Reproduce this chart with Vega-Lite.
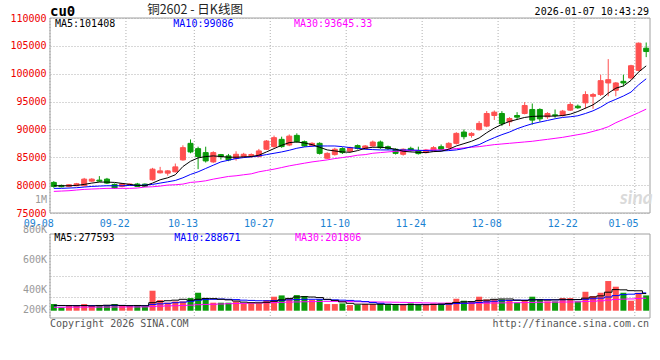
{
"$schema":"https://vega.github.io/schema/vega-lite/v6.json",
"width":600,"height":300,
"autosize":{"type":"none"},
"padding":{"left":50,"top":18,"right":10,"bottom":42},
"background":"#ffffff",
"config":{"view":{"stroke":null},"text":{"font":"DejaVu Sans Mono","fontSize":10,"baseline":"middle"},"axis":{"labelFont":"DejaVu Sans Mono","labelFontSize":10}},
"data":{"values":[
{"d":"2025-09-08","o":80490,"h":80720,"l":79530,"c":79770,"v":108000,"m5":79890,"m10":79420,"m30":78880,"vm5":88000,"vm10":83000,"vm30":55000},
{"d":"2025-09-09","o":79950,"h":80100,"l":79600,"c":79720,"v":54000,"m5":79890,"m10":79420,"m30":78940,"vm5":85000,"vm10":83000,"vm30":56000},
{"d":"2025-09-10","o":79770,"h":80200,"l":79650,"c":80070,"v":76000,"m5":79890,"m10":79480,"m30":79000,"vm5":83000,"vm10":83000,"vm30":57000},
{"d":"2025-09-11","o":79890,"h":80400,"l":79800,"c":80250,"v":76000,"m5":79950,"m10":79540,"m30":79120,"vm5":81000,"vm10":83000,"vm30":57000},
{"d":"2025-09-12","o":79890,"h":81300,"l":79800,"c":81080,"v":108000,"m5":80130,"m10":79660,"m30":79240,"vm5":84000,"vm10":83000,"vm30":58000},
{"d":"2025-09-15","o":80720,"h":81250,"l":80600,"c":81080,"v":76000,"m5":80370,"m10":79770,"m30":79300,"vm5":78000,"vm10":83000,"vm30":58000},
{"d":"2025-09-16","o":80900,"h":81620,"l":80600,"c":80720,"v":92000,"m5":80550,"m10":79830,"m30":79360,"vm5":85000,"vm10":83000,"vm30":59000},
{"d":"2025-09-17","o":81080,"h":81300,"l":80200,"c":80370,"v":76000,"m5":80550,"m10":79890,"m30":79420,"vm5":89000,"vm10":83000,"vm30":59000},
{"d":"2025-09-18","o":80130,"h":80300,"l":79400,"c":79480,"v":108000,"m5":80490,"m10":79890,"m30":79420,"vm5":92000,"vm10":85000,"vm30":60000},
{"d":"2025-09-19","o":79770,"h":80400,"l":79600,"c":80250,"v":76000,"m5":80310,"m10":79890,"m30":79420,"vm5":85000,"vm10":86000,"vm30":60000},
{"d":"2025-09-22","o":79950,"h":80300,"l":79850,"c":80200,"v":76000,"m5":80130,"m10":79950,"m30":79420,"vm5":82000,"vm10":83000,"vm30":61000},
{"d":"2025-09-23","o":80200,"h":80400,"l":79700,"c":79770,"v":76000,"m5":79950,"m10":79950,"m30":79480,"vm5":85000,"vm10":82000,"vm30":61000},
{"d":"2025-09-24","o":80180,"h":80300,"l":79700,"c":79800,"v":65000,"m5":79890,"m10":80010,"m30":79660,"vm5":80000,"vm10":82000,"vm30":62000},
{"d":"2025-09-25","o":80960,"h":83100,"l":80800,"c":82870,"v":324000,"m5":80370,"m10":80130,"m30":79710,"vm5":130000,"vm10":102000,"vm30":69000},
{"d":"2025-09-26","o":82210,"h":83280,"l":82100,"c":82560,"v":173000,"m5":80960,"m10":80370,"m30":79830,"vm5":148000,"vm10":111000,"vm30":74000},
{"d":"2025-09-29","o":82150,"h":82700,"l":81700,"c":82560,"v":130000,"m5":81320,"m10":80600,"m30":80010,"vm5":162000,"vm10":120000,"vm30":78000},
{"d":"2025-09-30","o":82390,"h":83880,"l":82300,"c":83280,"v":151000,"m5":81860,"m10":80840,"m30":80070,"vm5":171000,"vm10":130000,"vm30":81000},
{"d":"2025-10-09","o":84530,"h":87150,"l":84400,"c":86730,"v":151000,"m5":83340,"m10":81320,"m30":80190,"vm5":185000,"vm10":139000,"vm30":85000},
{"d":"2025-10-10","o":87500,"h":88200,"l":85720,"c":85960,"v":205000,"m5":84290,"m10":81920,"m30":80490,"vm5":171000,"vm10":153000,"vm30":90000},
{"d":"2025-10-13","o":86550,"h":86900,"l":82870,"c":85130,"v":291000,"m5":84890,"m10":82390,"m30":80600,"vm5":185000,"vm10":171000,"vm30":97000},
{"d":"2025-10-14","o":85840,"h":86900,"l":84060,"c":84350,"v":205000,"m5":85130,"m10":82990,"m30":80780,"vm5":199000,"vm10":180000,"vm30":102000},
{"d":"2025-10-15","o":84170,"h":86080,"l":84000,"c":85840,"v":130000,"m5":85250,"m10":83580,"m30":81080,"vm5":196000,"vm10":185000,"vm30":105000},
{"d":"2025-10-16","o":85480,"h":85600,"l":84600,"c":85130,"v":130000,"m5":85130,"m10":84170,"m30":81320,"vm5":185000,"vm10":190000,"vm30":109000},
{"d":"2025-10-17","o":85250,"h":85600,"l":84300,"c":84530,"v":130000,"m5":85010,"m10":84470,"m30":81560,"vm5":176000,"vm10":185000,"vm30":113000},
{"d":"2025-10-20","o":84770,"h":86080,"l":84400,"c":85540,"v":151000,"m5":85010,"m10":84770,"m30":81680,"vm5":157000,"vm10":180000,"vm30":117000},
{"d":"2025-10-21","o":85130,"h":85800,"l":84900,"c":85540,"v":118000,"m5":85070,"m10":84950,"m30":81860,"vm5":139000,"vm10":171000,"vm30":119000},
{"d":"2025-10-22","o":85300,"h":85700,"l":84900,"c":85500,"v":118000,"m5":85130,"m10":85070,"m30":82030,"vm5":130000,"vm10":167000,"vm30":122000},
{"d":"2025-10-23","o":85130,"h":86500,"l":85000,"c":86140,"v":118000,"m5":85370,"m10":85250,"m30":82390,"vm5":128000,"vm10":162000,"vm30":125000},
{"d":"2025-10-24","o":86440,"h":88100,"l":86300,"c":87920,"v":173000,"m5":85960,"m10":85480,"m30":82630,"vm5":136000,"vm10":162000,"vm30":128000},
{"d":"2025-10-27","o":86920,"h":88900,"l":86700,"c":88520,"v":227000,"m5":86560,"m10":85720,"m30":82870,"vm5":153000,"vm10":165000,"vm30":131000},
{"d":"2025-10-28","o":88220,"h":88700,"l":86700,"c":86920,"v":248000,"m5":87150,"m10":85960,"m30":83160,"vm5":176000,"vm10":167000,"vm30":135000},
{"d":"2025-10-29","o":87200,"h":89100,"l":87000,"c":88800,"v":205000,"m5":87630,"m10":86260,"m30":83460,"vm5":199000,"vm10":176000,"vm30":139000},
{"d":"2025-10-30","o":88930,"h":89300,"l":87600,"c":87800,"v":253000,"m5":87750,"m10":86620,"m30":83700,"vm5":222000,"vm10":180000,"vm30":142000},
{"d":"2025-10-31","o":87800,"h":88000,"l":86900,"c":87030,"v":238000,"m5":87570,"m10":86860,"m30":83940,"vm5":227000,"vm10":185000,"vm30":145000},
{"d":"2025-11-03","o":87150,"h":87700,"l":86900,"c":87500,"v":173000,"m5":87270,"m10":86980,"m30":84170,"vm5":222000,"vm10":185000,"vm30":148000},
{"d":"2025-11-04","o":87500,"h":87700,"l":85500,"c":85700,"v":183000,"m5":86800,"m10":87030,"m30":84350,"vm5":213000,"vm10":185000,"vm30":150000},
{"d":"2025-11-05","o":84830,"h":85900,"l":84700,"c":85700,"v":108000,"m5":86320,"m10":87030,"m30":84530,"vm5":185000,"vm10":180000,"vm30":151000},
{"d":"2025-11-06","o":85480,"h":86700,"l":85300,"c":86440,"v":108000,"m5":86140,"m10":87030,"m30":84770,"vm5":167000,"vm10":176000,"vm30":151000},
{"d":"2025-11-07","o":86560,"h":86800,"l":85600,"c":85840,"v":118000,"m5":85960,"m10":86910,"m30":84950,"vm5":143000,"vm10":171000,"vm30":150000},
{"d":"2025-11-10","o":86080,"h":86900,"l":85900,"c":86730,"v":92000,"m5":85900,"m10":86740,"m30":85130,"vm5":120000,"vm10":167000,"vm30":148000},
{"d":"2025-11-11","o":87100,"h":87300,"l":86400,"c":86600,"v":92000,"m5":86200,"m10":86620,"m30":85370,"vm5":106000,"vm10":157000,"vm30":146000},
{"d":"2025-11-12","o":86560,"h":87200,"l":86400,"c":87030,"v":108000,"m5":86620,"m10":86440,"m30":85480,"vm5":106000,"vm10":148000,"vm30":144000},
{"d":"2025-11-13","o":87030,"h":88000,"l":86900,"c":87740,"v":108000,"m5":86800,"m10":86380,"m30":85720,"vm5":106000,"vm10":134000,"vm30":142000},
{"d":"2025-11-14","o":87740,"h":88000,"l":86500,"c":86730,"v":108000,"m5":86800,"m10":86320,"m30":85840,"vm5":105000,"vm10":120000,"vm30":141000},
{"d":"2025-11-17","o":86900,"h":87100,"l":86300,"c":86560,"v":92000,"m5":86680,"m10":86320,"m30":85960,"vm5":102000,"vm10":106000,"vm30":139000},
{"d":"2025-11-18","o":86440,"h":86600,"l":85500,"c":85700,"v":92000,"m5":86440,"m10":86320,"m30":86080,"vm5":100000,"vm10":102000,"vm30":137000},
{"d":"2025-11-19","o":85540,"h":86600,"l":85300,"c":86440,"v":92000,"m5":86080,"m10":86320,"m30":86140,"vm5":97000,"vm10":102000,"vm30":135000},
{"d":"2025-11-20","o":86600,"h":86900,"l":86000,"c":86300,"v":118000,"m5":85960,"m10":86320,"m30":86200,"vm5":100000,"vm10":102000,"vm30":132000},
{"d":"2025-11-21","o":86140,"h":86900,"l":85500,"c":85660,"v":92000,"m5":85900,"m10":86260,"m30":86200,"vm5":97000,"vm10":102000,"vm30":130000},
{"d":"2025-11-24","o":85840,"h":86500,"l":85700,"c":86310,"v":92000,"m5":85840,"m10":86200,"m30":86260,"vm5":97000,"vm10":102000,"vm30":127000},
{"d":"2025-11-25","o":86140,"h":87000,"l":86000,"c":86730,"v":118000,"m5":86020,"m10":86140,"m30":86320,"vm5":102000,"vm10":102000,"vm30":125000},
{"d":"2025-11-26","o":86900,"h":87300,"l":86300,"c":86440,"v":118000,"m5":86080,"m10":86140,"m30":86320,"vm5":106000,"vm10":102000,"vm30":123000},
{"d":"2025-11-27","o":86740,"h":87700,"l":86500,"c":87500,"v":130000,"m5":86440,"m10":86200,"m30":86440,"vm5":116000,"vm10":106000,"vm30":122000},
{"d":"2025-11-28","o":87500,"h":89500,"l":87300,"c":89290,"v":194000,"m5":87030,"m10":86320,"m30":86560,"vm5":134000,"vm10":116000,"vm30":121000},
{"d":"2025-12-01","o":89530,"h":90000,"l":88220,"c":88700,"v":162000,"m5":87450,"m10":86560,"m30":86680,"vm5":143000,"vm10":120000,"vm30":121000},
{"d":"2025-12-02","o":88930,"h":89500,"l":88520,"c":89290,"v":141000,"m5":87870,"m10":86910,"m30":86800,"vm5":148000,"vm10":125000,"vm30":121000},
{"d":"2025-12-03","o":89950,"h":91500,"l":89800,"c":91080,"v":227000,"m5":88460,"m10":87270,"m30":86910,"vm5":167000,"vm10":134000,"vm30":122000},
{"d":"2025-12-04","o":90600,"h":93300,"l":90400,"c":92860,"v":183000,"m5":89410,"m10":87930,"m30":87090,"vm5":171000,"vm10":143000,"vm30":123000},
{"d":"2025-12-05","o":92500,"h":93400,"l":91700,"c":93100,"v":183000,"m5":90240,"m10":88520,"m30":87270,"vm5":185000,"vm10":153000,"vm30":125000},
{"d":"2025-12-08","o":92860,"h":93280,"l":90600,"c":91020,"v":183000,"m5":90900,"m10":89060,"m30":87390,"vm5":190000,"vm10":162000,"vm30":127000},
{"d":"2025-12-09","o":91380,"h":92200,"l":90600,"c":91960,"v":173000,"m5":91430,"m10":89530,"m30":87510,"vm5":190000,"vm10":167000,"vm30":129000},
{"d":"2025-12-10","o":92500,"h":93100,"l":91700,"c":92200,"v":130000,"m5":91790,"m10":90130,"m30":87630,"vm5":171000,"vm10":171000,"vm30":130000},
{"d":"2025-12-11","o":92860,"h":94900,"l":92700,"c":94290,"v":162000,"m5":92150,"m10":90600,"m30":87750,"vm5":167000,"vm10":171000,"vm30":131000},
{"d":"2025-12-12","o":93580,"h":94650,"l":90850,"c":91670,"v":227000,"m5":92330,"m10":91020,"m30":87870,"vm5":176000,"vm10":176000,"vm30":134000},
{"d":"2025-12-15","o":93580,"h":93800,"l":91400,"c":91900,"v":183000,"m5":92390,"m10":91320,"m30":88050,"vm5":176000,"vm10":180000,"vm30":137000},
{"d":"2025-12-16","o":92260,"h":93100,"l":91900,"c":92860,"v":151000,"m5":92390,"m10":91610,"m30":88220,"vm5":171000,"vm10":180000,"vm30":138000},
{"d":"2025-12-17","o":92620,"h":93580,"l":92100,"c":92500,"v":151000,"m5":92390,"m10":91910,"m30":88400,"vm5":176000,"vm10":176000,"vm30":139000},
{"d":"2025-12-18","o":92500,"h":93500,"l":92300,"c":93280,"v":205000,"m5":92500,"m10":92150,"m30":88580,"vm5":185000,"vm10":176000,"vm30":140000},
{"d":"2025-12-19","o":93460,"h":94880,"l":93300,"c":94470,"v":205000,"m5":92740,"m10":92270,"m30":88820,"vm5":180000,"vm10":180000,"vm30":141000},
{"d":"2025-12-22","o":94170,"h":94470,"l":93700,"c":93880,"v":151000,"m5":93220,"m10":92450,"m30":89060,"vm5":180000,"vm10":180000,"vm30":143000},
{"d":"2025-12-23","o":94770,"h":96850,"l":93700,"c":96260,"v":307000,"m5":93810,"m10":92860,"m30":89290,"vm5":204000,"vm10":185000,"vm30":149000},
{"d":"2025-12-24","o":95950,"h":96550,"l":93700,"c":96260,"v":238000,"m5":94410,"m10":93340,"m30":89650,"vm5":222000,"vm10":194000,"vm30":154000},
{"d":"2025-12-25","o":96260,"h":99820,"l":96000,"c":98750,"v":291000,"m5":95360,"m10":93990,"m30":90010,"vm5":241000,"vm10":204000,"vm30":160000},
{"d":"2025-12-26","o":98340,"h":102620,"l":95950,"c":98930,"v":481000,"m5":96500,"m10":94830,"m30":90480,"vm5":300000,"vm10":222000,"vm30":172000},
{"d":"2025-12-29","o":97030,"h":98500,"l":95950,"c":98340,"v":389000,"m5":97400,"m10":95400,"m30":91200,"vm5":342000,"vm10":245000,"vm30":182000},
{"d":"2025-12-30","o":98630,"h":99820,"l":97740,"c":98340,"v":291000,"m5":97800,"m10":96000,"m30":91800,"vm5":338000,"vm10":260000,"vm30":188000},
{"d":"2025-12-31","o":99230,"h":101600,"l":98930,"c":101430,"v":162000,"m5":98800,"m10":96700,"m30":92400,"vm5":325000,"vm10":268000,"vm30":191000},
{"d":"2026-01-05","o":100600,"h":105600,"l":100400,"c":105480,"v":291000,"m5":100300,"m10":98000,"m30":93000,"vm5":323000,"vm10":278000,"vm30":197000},
{"d":"2026-01-06","o":104580,"h":105600,"l":102980,"c":103980,"v":248000,"m5":101408,"m10":99086,"m30":93645.33,"vm5":277593,"vm10":288671,"vm30":201806}
]},
"resolve":{"scale":{"y":"independent"}},
"layer":[
{"layer":[
 {"transform":[{"filter":{"field":"d","oneOf":["2025-09-08","2025-09-22","2025-10-13","2025-10-27","2025-11-10","2025-11-24","2025-12-08","2025-12-22","2026-01-05"]}}],
  "mark":{"type":"rule","color":"#b0b0b0","strokeDash":[1,2],"strokeWidth":1},
  "encoding":{"x":{"field":"d","type":"ordinal","bandPosition":0},"y":{"datum":110000,"type":"quantitative","scale":{"domain":[75000,110000],"range":[195,0],"nice":false,"zero":false}},"y2":{"datum":75000}}},
 {"mark":{"type":"rule","strokeWidth":1},
  "encoding":{"x":{"field":"d","type":"ordinal"},"y":{"field":"l","type":"quantitative"},"y2":{"field":"h"},
   "color":{"condition":{"test":"datum.c >= datum.o","value":"#ff5050"},"value":"#0a9b0a"}}},
 {"mark":{"type":"bar","size":5,"strokeWidth":1},
  "encoding":{
   "x":{"field":"d","type":"ordinal","scale":{"type":"band","paddingInner":0,"paddingOuter":0},
        "axis":{"orient":"bottom","offset":-105,"values":["2025-09-08","2025-09-22","2025-10-13","2025-10-27","2025-11-10","2025-11-24","2025-12-08","2025-12-22","2026-01-05"],"bandPosition":0,"labelExpr":"substring(datum.value,5)","labelColor":"#1b82d2","labelAngle":0,"ticks":false,"domain":false,"grid":false,"labelPadding":10,"title":null}},
   "y":{"field":"o","type":"quantitative","scale":{"domain":[75000,110000],"range":[195,0],"nice":false,"zero":false},
        "axis":{"orient":"left","values":[75000,80000,85000,90000,95000,100000,105000,110000],"format":"d","labelColor":"#ee0000","ticks":false,"domain":false,"grid":true,"gridColor":"#b0b0b0","gridDash":[1,2],"labelPadding":4,"title":null}},
   "y2":{"field":"c"},
   "fill":{"condition":{"test":"datum.c >= datum.o","value":"#ff5050"},"value":"#0a9b0a"},
   "stroke":{"condition":{"test":"datum.c >= datum.o","value":"#ff5050"},"value":"#0a9b0a"}}},
 {"mark":{"type":"line","color":"#ff00ff","strokeWidth":1},"encoding":{"x":{"field":"d","type":"ordinal"},"y":{"field":"m30","type":"quantitative"}}},
 {"mark":{"type":"line","color":"#0000ff","strokeWidth":1},"encoding":{"x":{"field":"d","type":"ordinal"},"y":{"field":"m10","type":"quantitative"}}},
 {"mark":{"type":"line","color":"#000000","strokeWidth":1},"encoding":{"x":{"field":"d","type":"ordinal"},"y":{"field":"m5","type":"quantitative"}}},
 {"data":{"values":[{}]},"mark":{"type":"rule","color":"#a0a0a0","strokeWidth":1},"encoding":{"y":{"datum":110000,"type":"quantitative"}}},
 {"data":{"values":[{}]},"mark":{"type":"rule","color":"#a0a0a0","strokeWidth":1},"encoding":{"y":{"datum":75000,"type":"quantitative"}}},
 {"transform":[{"filter":"datum.d == '2025-09-08'"}],"mark":{"type":"rule","color":"#a0a0a0","strokeWidth":1},"encoding":{"x":{"field":"d","type":"ordinal","bandPosition":0},"y":{"datum":110000,"type":"quantitative"},"y2":{"datum":75000}}},
 {"transform":[{"filter":"datum.d == '2026-01-06'"}],"mark":{"type":"rule","color":"#a0a0a0","strokeWidth":1},"encoding":{"x":{"field":"d","type":"ordinal","bandPosition":1},"y":{"datum":110000,"type":"quantitative"},"y2":{"datum":75000}}},
 {"transform":[{"filter":"datum.d == '2025-09-08'"}],"mark":{"type":"text","text":"cu0","align":"left","fontSize":14,"fontWeight":"bold","color":"#000000","dy":-6},"encoding":{"x":{"field":"d","type":"ordinal","bandPosition":0},"y":{"datum":110000,"type":"quantitative"}}},
 {"transform":[{"filter":"datum.d == '2025-10-13'"}],"mark":{"type":"text","text":"铜2602 - 日K线图","align":"center","font":"Noto Sans CJK SC","fontSize":12.5,"color":"#222222","dx":0.7,"dy":-8.5},"encoding":{"x":{"field":"d","type":"ordinal","bandPosition":0},"y":{"datum":110000,"type":"quantitative"}}},
 {"transform":[{"filter":"datum.d == '2026-01-06'"}],"mark":{"type":"text","text":"2026-01-07 10:43:29","align":"right","color":"#000000","dx":-1,"dy":-6.3},"encoding":{"x":{"field":"d","type":"ordinal","bandPosition":1},"y":{"datum":110000,"type":"quantitative"}}},
 {"transform":[{"filter":"datum.d == '2025-09-08'"}],"mark":{"type":"text","text":"MA5:101408","align":"left","color":"#000000","dx":5,"dy":6},"encoding":{"x":{"field":"d","type":"ordinal","bandPosition":0},"y":{"datum":110000,"type":"quantitative"}}},
 {"transform":[{"filter":"datum.d == '2025-09-30'"}],"mark":{"type":"text","text":"MA10:99086","align":"left","color":"#0000ff","dx":1.8,"dy":6},"encoding":{"x":{"field":"d","type":"ordinal","bandPosition":0},"y":{"datum":110000,"type":"quantitative"}}},
 {"transform":[{"filter":"datum.d == '2025-10-30'"}],"mark":{"type":"text","text":"MA30:93645.33","align":"left","color":"#ff00ff","dx":1,"dy":6},"encoding":{"x":{"field":"d","type":"ordinal","bandPosition":0},"y":{"datum":110000,"type":"quantitative"}}},
 {"transform":[{"filter":"datum.d == '2026-01-05'"}],"mark":{"type":"text","text":"sina","align":"center","font":"Lato","fontStyle":"italic","fontWeight":"bold","fontSize":19,"color":"#dadada","dx":1.5,"dy":-15},"encoding":{"x":{"field":"d","type":"ordinal","bandPosition":0},"y":{"datum":75000,"type":"quantitative"}}}
]},
{"layer":[
 {"transform":[{"filter":{"field":"d","oneOf":["2025-09-08","2025-09-22","2025-10-13","2025-10-27","2025-11-10","2025-11-24","2025-12-08","2025-12-22","2026-01-05"]}}],
  "mark":{"type":"rule","color":"#b0b0b0","strokeDash":[1,2],"strokeWidth":1},
  "encoding":{"x":{"field":"d","type":"ordinal","bandPosition":0},"y":{"datum":1243000,"type":"quantitative","scale":{"domain":[-118000,1243000],"range":[300,216],"nice":false,"zero":false}},"y2":{"datum":-118000}}},
 {"mark":{"type":"bar","size":6},
  "encoding":{"x":{"field":"d","type":"ordinal"},
   "y":{"field":"v","type":"quantitative","scale":{"domain":[-118000,1243000],"range":[300,216],"nice":false,"zero":false},
        "axis":{"orient":"left","values":[222250,562500,902750],"labels":false,"ticks":false,"domain":false,"grid":true,"gridColor":"#b0b0b0","gridDash":[1,2],"title":null}},
   "y2":{"datum":0},
   "color":{"condition":{"test":"datum.c >= datum.o","value":"#ff5050"},"value":"#0a9b0a"}}},
 {"mark":{"type":"line","color":"#ff00ff","strokeWidth":1,"interpolate":"step"},"encoding":{"x":{"field":"d","type":"ordinal"},"y":{"field":"vm30","type":"quantitative"}}},
 {"mark":{"type":"line","color":"#0000ff","strokeWidth":1,"interpolate":"step"},"encoding":{"x":{"field":"d","type":"ordinal"},"y":{"field":"vm10","type":"quantitative"}}},
 {"mark":{"type":"line","color":"#000000","strokeWidth":1,"interpolate":"step"},"encoding":{"x":{"field":"d","type":"ordinal"},"y":{"field":"vm5","type":"quantitative"}}},
 {"data":{"values":[{}]},"mark":{"type":"rule","color":"#a0a0a0","strokeWidth":1},"encoding":{"y":{"datum":1243000,"type":"quantitative"}}},
 {"data":{"values":[{}]},"mark":{"type":"rule","color":"#a0a0a0","strokeWidth":1},"encoding":{"y":{"datum":-118000,"type":"quantitative"}}},
 {"transform":[{"filter":"datum.d == '2025-09-08'"}],"mark":{"type":"rule","color":"#a0a0a0","strokeWidth":1},"encoding":{"x":{"field":"d","type":"ordinal","bandPosition":0},"y":{"datum":1243000,"type":"quantitative"},"y2":{"datum":-118000}}},
 {"transform":[{"filter":"datum.d == '2026-01-06'"}],"mark":{"type":"rule","color":"#a0a0a0","strokeWidth":1},"encoding":{"x":{"field":"d","type":"ordinal","bandPosition":1},"y":{"datum":1243000,"type":"quantitative"},"y2":{"datum":-118000}}},
 {"transform":[{"filter":"datum.d == '2025-09-08'"}],"mark":{"type":"text","text":"MA5:277593","align":"left","color":"#000000","dx":4.3,"dy":4},"encoding":{"x":{"field":"d","type":"ordinal","bandPosition":0},"y":{"datum":1243000,"type":"quantitative"}}},
 {"transform":[{"filter":"datum.d == '2025-09-30'"}],"mark":{"type":"text","text":"MA10:288671","align":"left","color":"#0000ff","dx":2.8,"dy":4},"encoding":{"x":{"field":"d","type":"ordinal","bandPosition":0},"y":{"datum":1243000,"type":"quantitative"}}},
 {"transform":[{"filter":"datum.d == '2025-10-30'"}],"mark":{"type":"text","text":"MA30:201806","align":"left","color":"#ff00ff","dx":2,"dy":4},"encoding":{"x":{"field":"d","type":"ordinal","bandPosition":0},"y":{"datum":1243000,"type":"quantitative"}}},
 {"transform":[{"filter":"datum.d == '2025-09-08'"}],"mark":{"type":"text","text":"Copyright 2026 SINA.COM","align":"left","color":"#555555","dx":0,"dy":5.5},"encoding":{"x":{"field":"d","type":"ordinal","bandPosition":0},"y":{"datum":-118000,"type":"quantitative"}}},
 {"transform":[{"filter":"datum.d == '2026-01-06'"}],"mark":{"type":"text","text":"http://finance.sina.com.cn","align":"right","color":"#555555","dx":-1,"dy":5.5},"encoding":{"x":{"field":"d","type":"ordinal","bandPosition":1},"y":{"datum":-118000,"type":"quantitative"}}}
]},
{"transform":[{"filter":"datum.d == '2025-09-08'"}],
 "layer":[
 {"mark":{"type":"text","text":"1M","align":"right","color":"#999999","dx":-3},"encoding":{"x":{"field":"d","type":"ordinal","bandPosition":0},"y":{"datum":1000000,"type":"quantitative","scale":{"domain":[213333,773333],"range":[300,216],"nice":false,"zero":false},"axis":null}}},
 {"mark":{"type":"text","text":"800K","align":"right","color":"#999999","dx":-3},"encoding":{"x":{"field":"d","type":"ordinal","bandPosition":0},"y":{"datum":800000,"type":"quantitative"}}},
 {"mark":{"type":"text","text":"600K","align":"right","color":"#999999","dx":-3},"encoding":{"x":{"field":"d","type":"ordinal","bandPosition":0},"y":{"datum":600000,"type":"quantitative"}}},
 {"mark":{"type":"text","text":"400K","align":"right","color":"#999999","dx":-3},"encoding":{"x":{"field":"d","type":"ordinal","bandPosition":0},"y":{"datum":400000,"type":"quantitative"}}},
 {"mark":{"type":"text","text":"200K","align":"right","color":"#999999","dx":-3,"dy":-10},"encoding":{"x":{"field":"d","type":"ordinal","bandPosition":0},"y":{"datum":200000,"type":"quantitative"}}}
]}
]
}
